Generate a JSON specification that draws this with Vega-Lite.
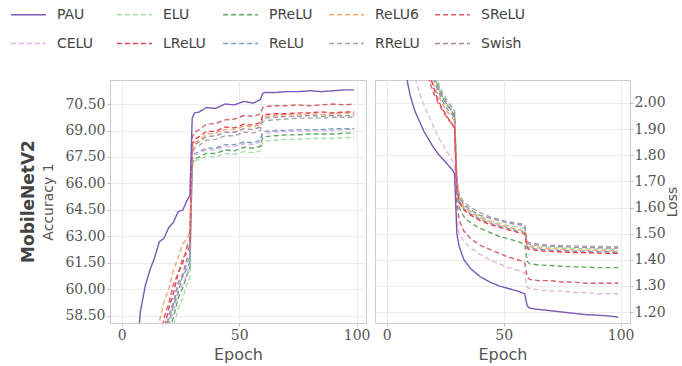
{
"$schema":"https://vega.github.io/schema/vega-lite/v6.json",
"padding":{"left":10,"top":-4,"right":2,"bottom":4},
"background":"white",
"data":{"values":[
{"e":0,"s":"ELU","a":6,"l":5.5},{"e":4,"s":"ELU","a":24,"l":3.5},{"e":6,"s":"ELU","a":30,"l":3.2},{"e":8,"s":"ELU","a":35,"l":2.95},{"e":10,"s":"ELU","a":40,"l":2.72},{"e":12,"s":"ELU","a":44.5,"l":2.52},{"e":14,"s":"ELU","a":48.5,"l":2.38},{"e":16,"s":"ELU","a":52,"l":2.28},{"e":18,"s":"ELU","a":55,"l":2.2},{"e":20,"s":"ELU","a":57.0,"l":2.13},{"e":22,"s":"ELU","a":57.9,"l":2.08},{"e":24,"s":"ELU","a":58.9,"l":2.04},{"e":26,"s":"ELU","a":59.5,"l":2.01},{"e":28,"s":"ELU","a":60.4,"l":1.985},{"e":29,"s":"ELU","a":60.6,"l":1.97},{"e":30,"s":"ELU","a":66.9,"l":1.69},{"e":31,"s":"ELU","a":67.3,"l":1.64},{"e":33,"s":"ELU","a":67.35,"l":1.605},{"e":36,"s":"ELU","a":67.55,"l":1.585},{"e":40,"s":"ELU","a":67.5,"l":1.565},{"e":44,"s":"ELU","a":67.7,"l":1.55},{"e":48,"s":"ELU","a":67.65,"l":1.54},{"e":52,"s":"ELU","a":67.8,"l":1.53},{"e":56,"s":"ELU","a":67.75,"l":1.525},{"e":59,"s":"ELU","a":67.85,"l":1.52},{"e":60,"s":"ELU","a":68.35,"l":1.46},{"e":61,"s":"ELU","a":68.4,"l":1.455},{"e":65,"s":"ELU","a":68.45,"l":1.45},{"e":70,"s":"ELU","a":68.5,"l":1.447},{"e":75,"s":"ELU","a":68.5,"l":1.445},{"e":80,"s":"ELU","a":68.55,"l":1.443},{"e":85,"s":"ELU","a":68.55,"l":1.442},{"e":90,"s":"ELU","a":68.55,"l":1.441},{"e":95,"s":"ELU","a":68.6,"l":1.44},{"e":99,"s":"ELU","a":68.6,"l":1.44},
{"e":0,"s":"PReLU","a":8,"l":5.4},{"e":4,"s":"PReLU","a":26,"l":3.4},{"e":6,"s":"PReLU","a":32,"l":3.1},{"e":8,"s":"PReLU","a":37,"l":2.85},{"e":10,"s":"PReLU","a":42,"l":2.65},{"e":12,"s":"PReLU","a":46,"l":2.47},{"e":14,"s":"PReLU","a":50,"l":2.32},{"e":16,"s":"PReLU","a":53.5,"l":2.24},{"e":18,"s":"PReLU","a":56.5,"l":2.17},{"e":20,"s":"PReLU","a":57.6,"l":2.11},{"e":22,"s":"PReLU","a":58.4,"l":2.06},{"e":24,"s":"PReLU","a":59.5,"l":2.02},{"e":26,"s":"PReLU","a":60.1,"l":1.99},{"e":28,"s":"PReLU","a":60.9,"l":1.965},{"e":29,"s":"PReLU","a":61.1,"l":1.95},{"e":30,"s":"PReLU","a":67.1,"l":1.65},{"e":31,"s":"PReLU","a":67.4,"l":1.6},{"e":33,"s":"PReLU","a":67.5,"l":1.565},{"e":36,"s":"PReLU","a":67.7,"l":1.54},{"e":40,"s":"PReLU","a":67.7,"l":1.52},{"e":44,"s":"PReLU","a":67.9,"l":1.505},{"e":48,"s":"PReLU","a":67.85,"l":1.49},{"e":52,"s":"PReLU","a":68.05,"l":1.48},{"e":56,"s":"PReLU","a":68.0,"l":1.47},{"e":59,"s":"PReLU","a":68.1,"l":1.46},{"e":60,"s":"PReLU","a":68.6,"l":1.395},{"e":61,"s":"PReLU","a":68.65,"l":1.385},{"e":65,"s":"PReLU","a":68.7,"l":1.38},{"e":70,"s":"PReLU","a":68.75,"l":1.378},{"e":75,"s":"PReLU","a":68.75,"l":1.375},{"e":80,"s":"PReLU","a":68.8,"l":1.373},{"e":85,"s":"PReLU","a":68.8,"l":1.372},{"e":90,"s":"PReLU","a":68.8,"l":1.37},{"e":95,"s":"PReLU","a":68.85,"l":1.37},{"e":99,"s":"PReLU","a":68.85,"l":1.37},
{"e":0,"s":"CELU","a":10,"l":4.6},{"e":4,"s":"CELU","a":28,"l":2.8},{"e":6,"s":"CELU","a":34,"l":2.5},{"e":8,"s":"CELU","a":39,"l":2.3},{"e":10,"s":"CELU","a":44,"l":2.18},{"e":12,"s":"CELU","a":48,"l":2.1},{"e":14,"s":"CELU","a":51.5,"l":2.04},{"e":16,"s":"CELU","a":54.5,"l":1.99},{"e":18,"s":"CELU","a":56.8,"l":1.95},{"e":20,"s":"CELU","a":57.9,"l":1.91},{"e":22,"s":"CELU","a":58.7,"l":1.87},{"e":24,"s":"CELU","a":59.8,"l":1.84},{"e":26,"s":"CELU","a":60.3,"l":1.81},{"e":28,"s":"CELU","a":61.0,"l":1.78},{"e":29,"s":"CELU","a":61.2,"l":1.76},{"e":30,"s":"CELU","a":67.3,"l":1.55},{"e":31,"s":"CELU","a":67.6,"l":1.5},{"e":33,"s":"CELU","a":67.7,"l":1.47},{"e":36,"s":"CELU","a":67.9,"l":1.445},{"e":40,"s":"CELU","a":67.9,"l":1.42},{"e":44,"s":"CELU","a":68.1,"l":1.4},{"e":48,"s":"CELU","a":68.1,"l":1.385},{"e":52,"s":"CELU","a":68.25,"l":1.37},{"e":56,"s":"CELU","a":68.2,"l":1.36},{"e":59,"s":"CELU","a":68.35,"l":1.35},{"e":60,"s":"CELU","a":68.8,"l":1.295},{"e":61,"s":"CELU","a":68.85,"l":1.29},{"e":65,"s":"CELU","a":68.9,"l":1.285},{"e":70,"s":"CELU","a":68.95,"l":1.28},{"e":75,"s":"CELU","a":68.95,"l":1.28},{"e":80,"s":"CELU","a":69.0,"l":1.275},{"e":85,"s":"CELU","a":69.0,"l":1.275},{"e":90,"s":"CELU","a":69.0,"l":1.27},{"e":95,"s":"CELU","a":69.05,"l":1.27},{"e":99,"s":"CELU","a":69.05,"l":1.27},
{"e":0,"s":"ReLU","a":10,"l":5.3},{"e":4,"s":"ReLU","a":28,"l":3.35},{"e":6,"s":"ReLU","a":34,"l":3.05},{"e":8,"s":"ReLU","a":39,"l":2.8},{"e":10,"s":"ReLU","a":44,"l":2.6},{"e":12,"s":"ReLU","a":48,"l":2.43},{"e":14,"s":"ReLU","a":51.5,"l":2.31},{"e":16,"s":"ReLU","a":54.5,"l":2.22},{"e":18,"s":"ReLU","a":57.0,"l":2.15},{"e":20,"s":"ReLU","a":58.1,"l":2.09},{"e":22,"s":"ReLU","a":59.1,"l":2.045},{"e":24,"s":"ReLU","a":59.8,"l":2.005},{"e":26,"s":"ReLU","a":60.8,"l":1.975},{"e":28,"s":"ReLU","a":61.2,"l":1.955},{"e":29,"s":"ReLU","a":61.6,"l":1.94},{"e":30,"s":"ReLU","a":67.4,"l":1.68},{"e":31,"s":"ReLU","a":67.7,"l":1.625},{"e":33,"s":"ReLU","a":67.8,"l":1.595},{"e":36,"s":"ReLU","a":68.0,"l":1.575},{"e":40,"s":"ReLU","a":68.0,"l":1.555},{"e":44,"s":"ReLU","a":68.2,"l":1.54},{"e":48,"s":"ReLU","a":68.2,"l":1.53},{"e":52,"s":"ReLU","a":68.35,"l":1.52},{"e":56,"s":"ReLU","a":68.3,"l":1.51},{"e":59,"s":"ReLU","a":68.45,"l":1.505},{"e":60,"s":"ReLU","a":68.9,"l":1.45},{"e":61,"s":"ReLU","a":68.95,"l":1.445},{"e":65,"s":"ReLU","a":69.0,"l":1.44},{"e":70,"s":"ReLU","a":69.0,"l":1.437},{"e":75,"s":"ReLU","a":69.05,"l":1.435},{"e":80,"s":"ReLU","a":69.05,"l":1.433},{"e":85,"s":"ReLU","a":69.05,"l":1.432},{"e":90,"s":"ReLU","a":69.1,"l":1.431},{"e":95,"s":"ReLU","a":69.1,"l":1.43},{"e":99,"s":"ReLU","a":69.1,"l":1.43},
{"e":0,"s":"RReLU","a":12,"l":5.4},{"e":4,"s":"RReLU","a":30,"l":3.45},{"e":6,"s":"RReLU","a":36,"l":3.15},{"e":8,"s":"RReLU","a":41,"l":2.9},{"e":10,"s":"RReLU","a":45.5,"l":2.66},{"e":12,"s":"RReLU","a":49.5,"l":2.48},{"e":14,"s":"RReLU","a":53,"l":2.35},{"e":16,"s":"RReLU","a":55.8,"l":2.26},{"e":18,"s":"RReLU","a":57.2,"l":2.18},{"e":20,"s":"RReLU","a":58.3,"l":2.12},{"e":22,"s":"RReLU","a":59.1,"l":2.07},{"e":24,"s":"RReLU","a":60.2,"l":2.03},{"e":26,"s":"RReLU","a":60.7,"l":2.0},{"e":28,"s":"RReLU","a":61.6,"l":1.98},{"e":29,"s":"RReLU","a":61.8,"l":1.97},{"e":30,"s":"RReLU","a":67.7,"l":1.71},{"e":31,"s":"RReLU","a":68.0,"l":1.65},{"e":33,"s":"RReLU","a":68.15,"l":1.62},{"e":36,"s":"RReLU","a":68.45,"l":1.6},{"e":40,"s":"RReLU","a":68.5,"l":1.58},{"e":44,"s":"RReLU","a":68.7,"l":1.565},{"e":48,"s":"RReLU","a":68.7,"l":1.555},{"e":52,"s":"RReLU","a":68.9,"l":1.545},{"e":56,"s":"RReLU","a":68.85,"l":1.54},{"e":59,"s":"RReLU","a":69.0,"l":1.535},{"e":60,"s":"RReLU","a":69.5,"l":1.47},{"e":61,"s":"RReLU","a":69.55,"l":1.465},{"e":65,"s":"RReLU","a":69.6,"l":1.46},{"e":70,"s":"RReLU","a":69.65,"l":1.456},{"e":75,"s":"RReLU","a":69.7,"l":1.454},{"e":80,"s":"RReLU","a":69.7,"l":1.453},{"e":85,"s":"RReLU","a":69.7,"l":1.452},{"e":90,"s":"RReLU","a":69.75,"l":1.451},{"e":95,"s":"RReLU","a":69.75,"l":1.45},{"e":99,"s":"RReLU","a":69.75,"l":1.45},
{"e":0,"s":"Swish","a":12,"l":5.3},{"e":4,"s":"Swish","a":30,"l":3.4},{"e":6,"s":"Swish","a":36,"l":3.1},{"e":8,"s":"Swish","a":41,"l":2.85},{"e":10,"s":"Swish","a":46,"l":2.63},{"e":12,"s":"Swish","a":50,"l":2.46},{"e":14,"s":"Swish","a":53.5,"l":2.34},{"e":16,"s":"Swish","a":56.0,"l":2.25},{"e":18,"s":"Swish","a":57.4,"l":2.17},{"e":20,"s":"Swish","a":58.5,"l":2.11},{"e":22,"s":"Swish","a":59.3,"l":2.06},{"e":24,"s":"Swish","a":60.4,"l":2.02},{"e":26,"s":"Swish","a":60.9,"l":1.99},{"e":28,"s":"Swish","a":61.8,"l":1.97},{"e":29,"s":"Swish","a":62.0,"l":1.96},{"e":30,"s":"Swish","a":67.9,"l":1.7},{"e":31,"s":"Swish","a":68.2,"l":1.64},{"e":33,"s":"Swish","a":68.35,"l":1.61},{"e":36,"s":"Swish","a":68.65,"l":1.59},{"e":40,"s":"Swish","a":68.7,"l":1.57},{"e":44,"s":"Swish","a":68.9,"l":1.56},{"e":48,"s":"Swish","a":68.9,"l":1.55},{"e":52,"s":"Swish","a":69.1,"l":1.54},{"e":56,"s":"Swish","a":69.05,"l":1.535},{"e":59,"s":"Swish","a":69.2,"l":1.53},{"e":60,"s":"Swish","a":69.65,"l":1.465},{"e":61,"s":"Swish","a":69.7,"l":1.46},{"e":65,"s":"Swish","a":69.75,"l":1.455},{"e":70,"s":"Swish","a":69.8,"l":1.452},{"e":75,"s":"Swish","a":69.8,"l":1.45},{"e":80,"s":"Swish","a":69.85,"l":1.448},{"e":85,"s":"Swish","a":69.8,"l":1.447},{"e":90,"s":"Swish","a":69.85,"l":1.446},{"e":95,"s":"Swish","a":69.85,"l":1.445},{"e":99,"s":"Swish","a":69.85,"l":1.445},
{"e":0,"s":"ReLU6","a":18,"l":5.1},{"e":4,"s":"ReLU6","a":34,"l":3.25},{"e":6,"s":"ReLU6","a":40,"l":2.95},{"e":8,"s":"ReLU6","a":45,"l":2.72},{"e":10,"s":"ReLU6","a":49.5,"l":2.53},{"e":12,"s":"ReLU6","a":53,"l":2.38},{"e":14,"s":"ReLU6","a":56.8,"l":2.28},{"e":16,"s":"ReLU6","a":58.2,"l":2.2},{"e":18,"s":"ReLU6","a":59.3,"l":2.13},{"e":20,"s":"ReLU6","a":60.0,"l":2.07},{"e":22,"s":"ReLU6","a":61.1,"l":2.03},{"e":24,"s":"ReLU6","a":61.8,"l":1.995},{"e":26,"s":"ReLU6","a":62.6,"l":1.965},{"e":28,"s":"ReLU6","a":62.9,"l":1.945},{"e":29,"s":"ReLU6","a":63.3,"l":1.93},{"e":30,"s":"ReLU6","a":68.0,"l":1.68},{"e":31,"s":"ReLU6","a":68.3,"l":1.63},{"e":33,"s":"ReLU6","a":68.45,"l":1.6},{"e":36,"s":"ReLU6","a":68.8,"l":1.58},{"e":40,"s":"ReLU6","a":68.85,"l":1.56},{"e":44,"s":"ReLU6","a":69.05,"l":1.545},{"e":48,"s":"ReLU6","a":69.05,"l":1.535},{"e":52,"s":"ReLU6","a":69.25,"l":1.525},{"e":56,"s":"ReLU6","a":69.2,"l":1.515},{"e":59,"s":"ReLU6","a":69.35,"l":1.51},{"e":60,"s":"ReLU6","a":69.75,"l":1.455},{"e":61,"s":"ReLU6","a":69.8,"l":1.45},{"e":65,"s":"ReLU6","a":69.85,"l":1.445},{"e":70,"s":"ReLU6","a":69.9,"l":1.442},{"e":75,"s":"ReLU6","a":69.9,"l":1.44},{"e":80,"s":"ReLU6","a":69.95,"l":1.438},{"e":85,"s":"ReLU6","a":69.9,"l":1.437},{"e":90,"s":"ReLU6","a":69.95,"l":1.436},{"e":95,"s":"ReLU6","a":70.0,"l":1.435},{"e":99,"s":"ReLU6","a":69.95,"l":1.435},
{"e":0,"s":"LReLU","a":15,"l":5.2},{"e":4,"s":"LReLU","a":32,"l":3.3},{"e":6,"s":"LReLU","a":38,"l":3.0},{"e":8,"s":"LReLU","a":43,"l":2.75},{"e":10,"s":"LReLU","a":48,"l":2.55},{"e":12,"s":"LReLU","a":51.5,"l":2.38},{"e":14,"s":"LReLU","a":54.5,"l":2.27},{"e":16,"s":"LReLU","a":56.5,"l":2.19},{"e":18,"s":"LReLU","a":57.8,"l":2.12},{"e":20,"s":"LReLU","a":58.9,"l":2.06},{"e":22,"s":"LReLU","a":59.8,"l":2.01},{"e":24,"s":"LReLU","a":60.9,"l":1.975},{"e":26,"s":"LReLU","a":61.5,"l":1.945},{"e":28,"s":"LReLU","a":62.5,"l":1.92},{"e":29,"s":"LReLU","a":62.8,"l":1.9},{"e":30,"s":"LReLU","a":68.2,"l":1.67},{"e":31,"s":"LReLU","a":68.5,"l":1.62},{"e":33,"s":"LReLU","a":68.65,"l":1.59},{"e":36,"s":"LReLU","a":68.95,"l":1.57},{"e":40,"s":"LReLU","a":68.95,"l":1.55},{"e":44,"s":"LReLU","a":69.2,"l":1.535},{"e":48,"s":"LReLU","a":69.15,"l":1.525},{"e":52,"s":"LReLU","a":69.35,"l":1.515},{"e":56,"s":"LReLU","a":69.3,"l":1.505},{"e":59,"s":"LReLU","a":69.45,"l":1.5},{"e":60,"s":"LReLU","a":69.85,"l":1.445},{"e":61,"s":"LReLU","a":69.9,"l":1.44},{"e":65,"s":"LReLU","a":69.95,"l":1.435},{"e":70,"s":"LReLU","a":69.95,"l":1.432},{"e":75,"s":"LReLU","a":70.0,"l":1.43},{"e":80,"s":"LReLU","a":70.0,"l":1.428},{"e":85,"s":"LReLU","a":70.05,"l":1.427},{"e":90,"s":"LReLU","a":70.0,"l":1.426},{"e":95,"s":"LReLU","a":70.05,"l":1.425},{"e":99,"s":"LReLU","a":70.05,"l":1.425},
{"e":0,"s":"SReLU","a":20,"l":5.0},{"e":4,"s":"SReLU","a":35,"l":3.2},{"e":6,"s":"SReLU","a":40,"l":2.9},{"e":8,"s":"SReLU","a":45,"l":2.6},{"e":10,"s":"SReLU","a":50,"l":2.45},{"e":12,"s":"SReLU","a":53,"l":2.33},{"e":14,"s":"SReLU","a":55.5,"l":2.23},{"e":16,"s":"SReLU","a":57.0,"l":2.15},{"e":18,"s":"SReLU","a":58.4,"l":2.09},{"e":20,"s":"SReLU","a":59.2,"l":2.04},{"e":22,"s":"SReLU","a":60.3,"l":2.0},{"e":24,"s":"SReLU","a":60.9,"l":1.97},{"e":26,"s":"SReLU","a":61.8,"l":1.94},{"e":28,"s":"SReLU","a":62.1,"l":1.92},{"e":29,"s":"SReLU","a":62.5,"l":1.91},{"e":30,"s":"SReLU","a":68.6,"l":1.62},{"e":31,"s":"SReLU","a":68.9,"l":1.55},{"e":33,"s":"SReLU","a":69.05,"l":1.51},{"e":36,"s":"SReLU","a":69.35,"l":1.48},{"e":40,"s":"SReLU","a":69.4,"l":1.455},{"e":44,"s":"SReLU","a":69.6,"l":1.44},{"e":48,"s":"SReLU","a":69.65,"l":1.425},{"e":52,"s":"SReLU","a":69.85,"l":1.41},{"e":56,"s":"SReLU","a":69.8,"l":1.4},{"e":59,"s":"SReLU","a":69.95,"l":1.39},{"e":60,"s":"SReLU","a":70.3,"l":1.335},{"e":61,"s":"SReLU","a":70.35,"l":1.325},{"e":65,"s":"SReLU","a":70.4,"l":1.32},{"e":70,"s":"SReLU","a":70.4,"l":1.32},{"e":75,"s":"SReLU","a":70.45,"l":1.315},{"e":80,"s":"SReLU","a":70.4,"l":1.315},{"e":85,"s":"SReLU","a":70.45,"l":1.31},{"e":90,"s":"SReLU","a":70.5,"l":1.31},{"e":95,"s":"SReLU","a":70.45,"l":1.31},{"e":99,"s":"SReLU","a":70.5,"l":1.31},
{"e":0,"s":"PAU","a":30,"l":4.5},{"e":4,"s":"PAU","a":50,"l":2.6},{"e":6,"s":"PAU","a":56.0,"l":2.3},{"e":8,"s":"PAU","a":58.8,"l":2.12},{"e":10,"s":"PAU","a":60.2,"l":2.03},{"e":12,"s":"PAU","a":61.1,"l":1.97},{"e":14,"s":"PAU","a":61.8,"l":1.93},{"e":16,"s":"PAU","a":62.7,"l":1.89},{"e":18,"s":"PAU","a":62.9,"l":1.86},{"e":20,"s":"PAU","a":63.5,"l":1.83},{"e":22,"s":"PAU","a":63.8,"l":1.805},{"e":24,"s":"PAU","a":64.4,"l":1.785},{"e":26,"s":"PAU","a":64.5,"l":1.765},{"e":28,"s":"PAU","a":65.1,"l":1.745},{"e":29,"s":"PAU","a":65.3,"l":1.73},{"e":30,"s":"PAU","a":69.7,"l":1.5},{"e":31,"s":"PAU","a":70.0,"l":1.45},{"e":33,"s":"PAU","a":70.05,"l":1.4},{"e":36,"s":"PAU","a":70.3,"l":1.365},{"e":40,"s":"PAU","a":70.25,"l":1.335},{"e":44,"s":"PAU","a":70.5,"l":1.315},{"e":48,"s":"PAU","a":70.45,"l":1.3},{"e":52,"s":"PAU","a":70.65,"l":1.29},{"e":56,"s":"PAU","a":70.55,"l":1.28},{"e":59,"s":"PAU","a":70.75,"l":1.27},{"e":60,"s":"PAU","a":71.1,"l":1.225},{"e":61,"s":"PAU","a":71.15,"l":1.215},{"e":65,"s":"PAU","a":71.15,"l":1.21},{"e":70,"s":"PAU","a":71.2,"l":1.205},{"e":75,"s":"PAU","a":71.2,"l":1.2},{"e":80,"s":"PAU","a":71.25,"l":1.195},{"e":85,"s":"PAU","a":71.2,"l":1.19},{"e":90,"s":"PAU","a":71.25,"l":1.188},{"e":95,"s":"PAU","a":71.3,"l":1.185},{"e":99,"s":"PAU","a":71.3,"l":1.18}
]},
"config":{
 "view":{"stroke":"#cccccc","strokeWidth":1},
 "axis":{"labelFont":"DejaVu Serif","labelFontSize":14,"labelColor":"#555","titleFont":"DejaVu Sans","titleFontSize":16,"titleFontWeight":"normal","titleColor":"#555","gridColor":"#ececec","domain":false,"tickColor":"#bbbbbb","tickSize":3,"labelPadding":2},
 "legend":{"orient":"none","direction":"horizontal","legendX":-100,"legendY":-84,"columns":5,"symbolSize":1225,"symbolStrokeWidth":1.6,"labelFont":"DejaVu Sans","labelFontSize":14,"labelColor":"#444","labelOffset":10,"rowPadding":3,"columnPadding":11,"gridAlign":"all"},
 "concat":{"spacing":3}
},
"resolve":{"scale":{"y":"independent","color":"shared","strokeDash":"shared"}},
"hconcat":[
 {"width":256,"height":243,
  "title":{"text":"MobileNetV2","orient":"left","anchor":"middle","font":"DejaVu Sans","fontSize":17,"fontWeight":"bold","color":"#444","offset":4},
  "mark":{"type":"line","clip":true,"strokeWidth":1.4},
  "encoding":{
   "x":{"field":"e","type":"quantitative","scale":{"domain":[-5,104],"nice":false,"zero":false},"axis":{"values":[0,50,100],"title":"Epoch","titlePadding":4}},
   "y":{"field":"a","type":"quantitative","scale":{"domain":[58.1,71.86],"nice":false,"zero":false},"axis":{"values":[58.5,60,61.5,63,64.5,66,67.5,69,70.5],"format":".2f","title":"Accuracy 1","titleFontSize":14,"titlePadding":9}},
   "color":{"field":"s","type":"nominal","scale":{"domain":["PAU","ELU","PReLU","ReLU6","SReLU","CELU","LReLU","ReLU","RReLU","Swish"],"range":["#7b5ab8","#a6dca6","#62a862","#f4a86c","#d8606e","#dfb6e2","#e8414f","#7aa0c4","#a9a9a9","#a48ea6"]},"legend":{"title":null,"symbolType":"M-1,0H1"}},
   "strokeDash":{"field":"s","type":"nominal","scale":{"domain":["PAU","ELU","PReLU","ReLU6","SReLU","CELU","LReLU","ReLU","RReLU","Swish"],"range":[[1,0],[5,3],[5,3],[5,3],[5,3],[5,3],[5,3],[5,3],[5,3],[5,3]]},"legend":{"title":null,"symbolType":"M-1,0H1"}}
  }},
 {"width":255,"height":243,
  "mark":{"type":"line","clip":true,"strokeWidth":1.4},
  "encoding":{
   "x":{"field":"e","type":"quantitative","scale":{"domain":[-5,104],"nice":false,"zero":false},"axis":{"values":[0,50,100],"title":"Epoch","titlePadding":4}},
   "y":{"field":"l","type":"quantitative","scale":{"domain":[1.158,2.088],"nice":false,"zero":false},"axis":{"orient":"right","values":[1.2,1.3,1.4,1.5,1.6,1.7,1.8,1.9,2.0],"format":".2f","title":"Loss","titleFontSize":14,"titleAngle":270,"titleBaseline":"top","titlePadding":0,"labelPadding":1}},
   "color":{"field":"s","type":"nominal","legend":{"title":null,"symbolType":"M-1,0H1"}},
   "strokeDash":{"field":"s","type":"nominal","legend":{"title":null,"symbolType":"M-1,0H1"}}
  }}
]
}
